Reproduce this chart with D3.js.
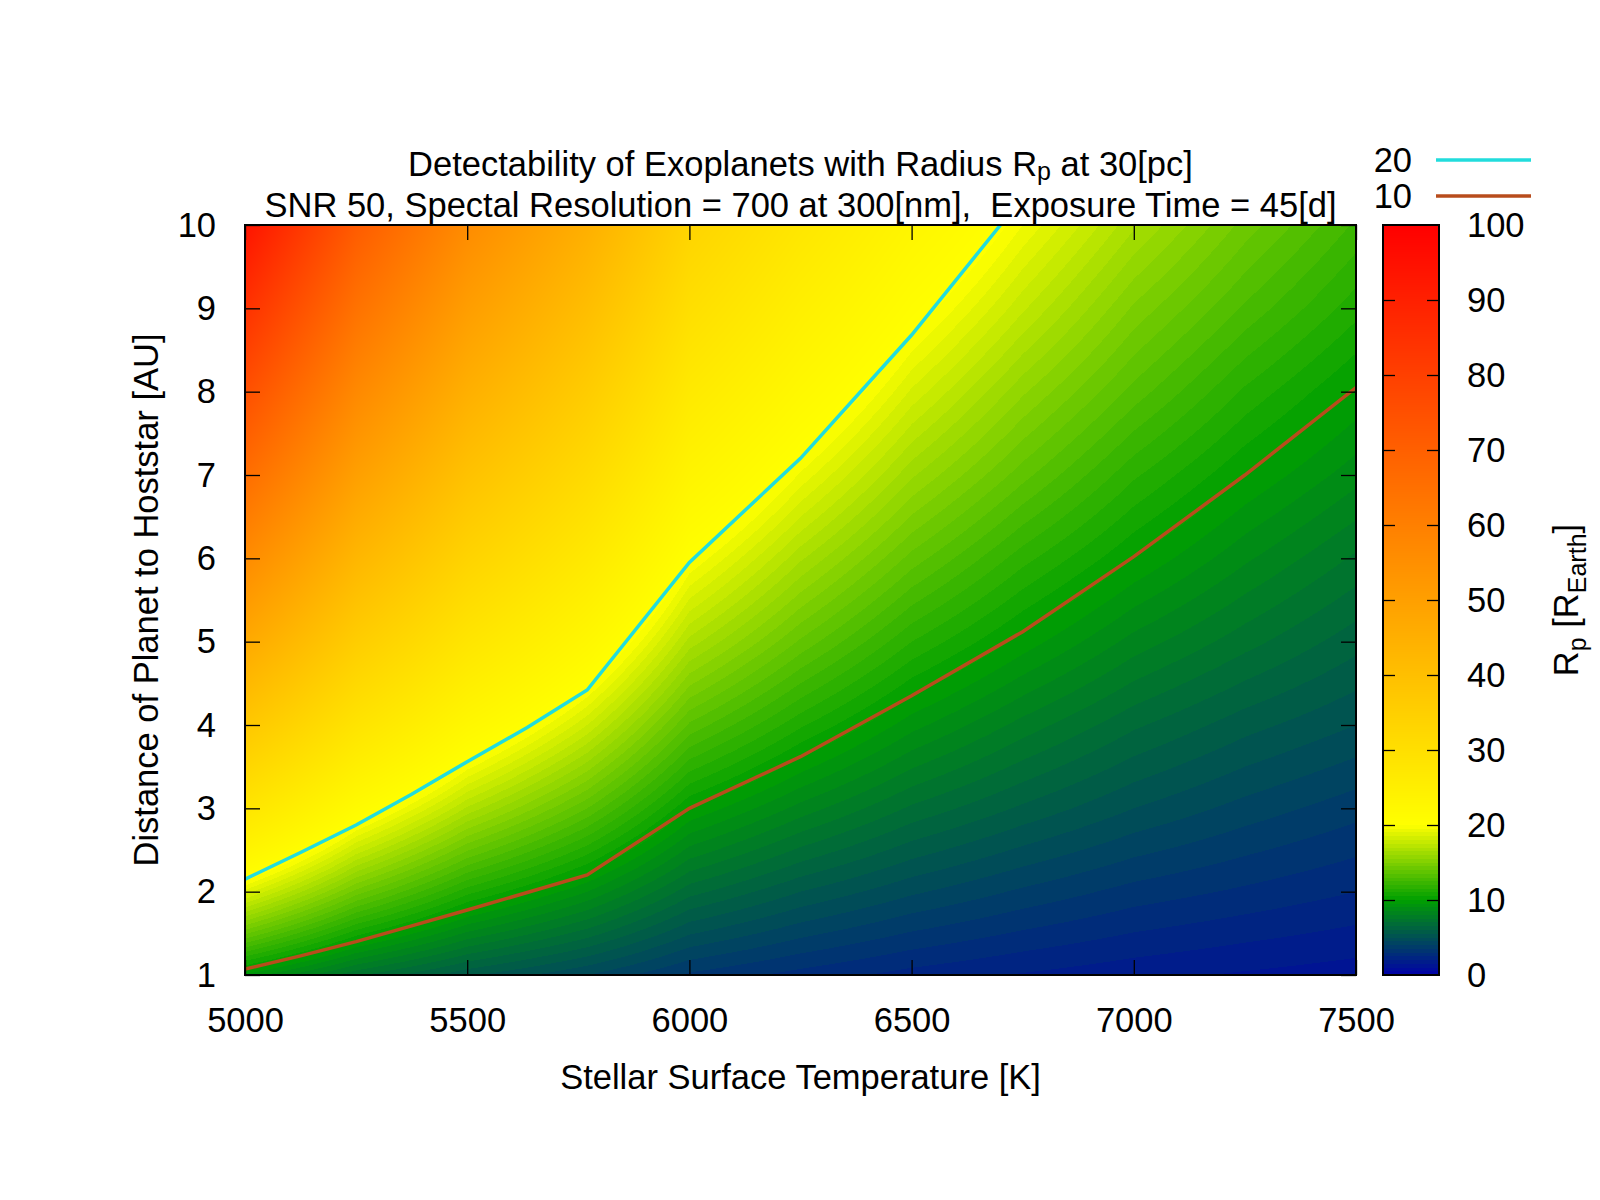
<!DOCTYPE html>
<html><head><meta charset="utf-8">
<script src="https://cdn.jsdelivr.net/npm/d3@7"></script>
<style>
body{margin:0;background:#fff}
text{font-family:"Liberation Sans",Arial,sans-serif;fill:#000}
</style>
</head><body>
<svg id="chart" width="1600" height="1200" xmlns="http://www.w3.org/2000/svg"></svg>
<script>
// ---------------- data ----------------
const temperatures = [5000, 5250, 5500, 5770, 6000, 6250, 6500, 6750, 7000, 7250, 7500];
const distances = [1, 2, 3, 4, 5, 6, 7, 8, 9, 10];
// Rp [R_Earth]; rows = distances, columns = temperatures
const rpGrid = [
  [ 9.4,  7.1,  5.6,  4.5,  3.4,  2.8,  2.3,  1.95, 1.66, 1.43, 1.24],
  [18.8, 14.3, 11.2,  9.0,  6.7,  5.5,  4.6,  3.9,  3.3,  2.9,  2.5],
  [28.2, 21.4, 16.9, 13.5, 10.0,  8.3,  6.9,  5.9,  5.0,  4.3,  3.7],
  [37.6, 28.6, 22.5, 18.0, 13.4, 11.1,  9.2,  7.8,  6.6,  5.7,  5.0],
  [47.0, 35.7, 28.1, 22.5, 16.8, 13.9, 11.5,  9.8,  8.3,  7.2,  6.2],
  [56.4, 42.8, 33.7, 27.0, 20.1, 16.6, 13.8, 11.7, 10.0,  8.6,  7.4],
  [65.8, 50.0, 39.3, 31.5, 23.5, 19.4, 16.1, 13.7, 11.6, 10.0,  8.7],
  [75.2, 57.1, 45.0, 36.0, 26.8, 22.2, 18.4, 15.6, 13.3, 11.4,  9.9],
  [84.6, 64.3, 50.6, 40.5, 30.2, 24.9, 20.7, 17.6, 14.9, 12.9, 11.2],
  [94.0, 71.4, 56.2, 45.0, 33.5, 27.7, 23.0, 19.5, 16.6, 14.3, 12.4]
];
// contour lines: [temperature, distance]
const contour20 = [[5000,2.15],[5125,2.47],[5250,2.8],[5375,3.17],[5500,3.56],[5635,3.97],[5770,4.42],[6000,5.95],[6250,7.2],[6500,8.68],[6700,10]];
const contour10 = [[5000,1.07],[5125,1.23],[5250,1.4],[5375,1.59],[5500,1.78],[5635,1.99],[5770,2.2],[6000,3.0],[6250,3.62],[6500,4.35],[6750,5.12],[7000,6.02],[7250,7.0],[7500,8.05]];
const contourLevels = ["20", "10"];
const xTicks = [5000, 5500, 6000, 6500, 7000, 7500];
const yTicks = [1, 2, 3, 4, 5, 6, 7, 8, 9, 10];
const cbTicks = [0, 10, 20, 30, 40, 50, 60, 70, 80, 90, 100];
const paletteStops = [0, 10, 20, 100];
const paletteColors = ["#0000a8", "#00a000", "#ffff00", "#ff0000"];

// ---------------- layout ----------------
const L = 245, R = 1356, T = 225, B = 975;
const cbL = 1383, cbR = 1439;
const svg = d3.select("#chart");

const x = d3.scaleLinear().domain([5000, 7500]).range([L, R]);
const y = d3.scaleLinear().domain([1, 10]).range([B, T]);
const cb = d3.scaleLinear().domain([0, 100]).range([B, T]);
const col = d3.scaleLinear().domain(paletteStops).range(paletteColors).interpolate(d3.interpolateRgb).clamp(true);
function colorOf(v) {
  if (v < 20) v = Math.floor(v * 2) / 2 + 0.25;
  return col(v);
}
function valueAt(t, d) {
  let i = d3.bisectRight(temperatures, t) - 1;
  i = Math.max(0, Math.min(temperatures.length - 2, i));
  let j = d3.bisectRight(distances, d) - 1;
  j = Math.max(0, Math.min(distances.length - 2, j));
  const fx = (t - temperatures[i]) / (temperatures[i + 1] - temperatures[i]);
  const fy = (d - distances[j]) / (distances[j + 1] - distances[j]);
  const v00 = rpGrid[j][i], v10 = rpGrid[j][i + 1], v01 = rpGrid[j + 1][i], v11 = rpGrid[j + 1][i + 1];
  return (v00 * (1 - fx) + v10 * fx) * (1 - fy) + (v01 * (1 - fx) + v11 * fx) * fy;
}

// heatmap via canvas image
const W = R - L, H = B - T;
const canvas = document.createElement("canvas");
canvas.width = W; canvas.height = H;
const ctx = canvas.getContext("2d");
const img = ctx.createImageData(W, H);
for (let py = 0; py < H; py++) {
  const d = y.invert(T + py + 0.5);
  for (let px = 0; px < W; px++) {
    const t = x.invert(L + px + 0.5);
    const c = d3.rgb(colorOf(valueAt(t, d)));
    const k = (py * W + px) * 4;
    img.data[k] = c.r; img.data[k + 1] = c.g; img.data[k + 2] = c.b; img.data[k + 3] = 255;
  }
}
ctx.putImageData(img, 0, 0);
svg.append("image").attr("x", L).attr("y", T).attr("width", W).attr("height", H)
  .attr("preserveAspectRatio", "none").attr("href", canvas.toDataURL());

// contour lines
const line = d3.line().x(p => x(p[0])).y(p => y(p[1]));
svg.append("defs").append("clipPath").attr("id", "clip").append("rect")
  .attr("x", L).attr("y", T).attr("width", W).attr("height", H);
svg.append("path").attr("d", line(contour10)).attr("fill", "none").attr("stroke", "#b84c1c").attr("stroke-width", 3.5).attr("clip-path", "url(#clip)");
svg.append("path").attr("d", line(contour20)).attr("fill", "none").attr("stroke", "#22dcdc").attr("stroke-width", 3.5).attr("clip-path", "url(#clip)");

// axes
const fs = 34.5;
const tick = 15;
const fmt = d3.format("d");
const gx = svg.append("g").attr("transform", `translate(0,${B})`)
  .call(d3.axisBottom(x).tickValues(xTicks).tickFormat(fmt).tickSizeInner(-tick).tickSizeOuter(0).tickPadding(33));
const gxt = svg.append("g").attr("transform", `translate(0,${T})`)
  .call(d3.axisTop(x).tickValues(xTicks).tickSizeInner(-tick).tickSizeOuter(0).tickFormat(""));
const gy = svg.append("g").attr("transform", `translate(${L},0)`)
  .call(d3.axisLeft(y).tickValues(yTicks).tickFormat(fmt).tickSizeInner(-tick).tickSizeOuter(0).tickPadding(29));
const gyr = svg.append("g").attr("transform", `translate(${R},0)`)
  .call(d3.axisRight(y).tickValues(yTicks).tickSizeInner(-tick).tickSizeOuter(0).tickFormat(""));
[gx, gxt, gy, gyr].forEach(g => {
  g.select(".domain").remove();
  g.selectAll(".tick line").attr("stroke", "#000").attr("stroke-width", 1.3);
  g.selectAll("text").attr("font-size", fs).attr("font-family", "Liberation Sans, Arial, sans-serif").attr("fill", "#000");
});
svg.append("rect").attr("x", L).attr("y", T).attr("width", W).attr("height", H)
  .attr("fill", "none").attr("stroke", "#000").attr("stroke-width", 2);

// colorbar
const cbG = svg.append("g");
for (let py = T; py < B; py++) {
  const v = cb.invert(py + 0.5);
  cbG.append("rect").attr("x", cbL).attr("y", py).attr("width", cbR - cbL).attr("height", 1.2).attr("fill", colorOf(v));
}
const gcb = svg.append("g").attr("transform", `translate(${cbR},0)`)
  .call(d3.axisRight(cb).tickValues(cbTicks).tickFormat(fmt).tickSizeInner(-12).tickSizeOuter(0).tickPadding(28));
const gcbl = svg.append("g").attr("transform", `translate(${cbL},0)`)
  .call(d3.axisLeft(cb).tickValues(cbTicks).tickSizeInner(-12).tickSizeOuter(0).tickFormat(""));
[gcb, gcbl].forEach(g => {
  g.select(".domain").remove();
  g.selectAll(".tick line").attr("stroke", "#000").attr("stroke-width", 1.3);
  g.selectAll("text").attr("font-size", fs).attr("font-family", "Liberation Sans, Arial, sans-serif").attr("fill", "#000");
});
gcb.selectAll(".tick").filter(d => d === 0 || d === 100).select("line").remove();
gcbl.selectAll(".tick").filter(d => d === 0 || d === 100).select("line").remove();
svg.append("rect").attr("x", cbL).attr("y", T).attr("width", cbR - cbL).attr("height", H)
  .attr("fill", "none").attr("stroke", "#000").attr("stroke-width", 2);

// labels
const lfs = 34.5;
const sfs = 25;
svg.append("text").attr("x", (L + R) / 2).attr("y", 1089).attr("text-anchor", "middle")
  .attr("font-size", lfs).text("Stellar Surface Temperature [K]");
svg.append("text").attr("transform", `translate(158,${(T + B) / 2}) rotate(-90)`).attr("text-anchor", "middle")
  .attr("font-size", lfs).text("Distance of Planet to Hoststar [AU]");
const cbLabel = svg.append("text").attr("transform", `translate(1578,${(T + B) / 2}) rotate(-90)`).attr("text-anchor", "middle")
  .attr("font-size", lfs);
cbLabel.append("tspan").text("R");
cbLabel.append("tspan").attr("dy", 8).attr("font-size", sfs).text("p");
cbLabel.append("tspan").attr("dy", -8).text(" [R");
cbLabel.append("tspan").attr("dy", 8).attr("font-size", sfs).text("Earth");
cbLabel.append("tspan").attr("dy", -8).text("]");

// title
const t1 = svg.append("text").attr("x", (L + R) / 2).attr("y", 176).attr("text-anchor", "middle").attr("font-size", lfs);
t1.append("tspan").text("Detectability of Exoplanets with Radius R");
t1.append("tspan").attr("dy", 4).attr("font-size", sfs).text("p");
t1.append("tspan").attr("dy", -4).text(" at 30[pc]");
svg.append("text").attr("x", (L + R) / 2).attr("y", 217).attr("text-anchor", "middle").attr("font-size", lfs)
  .style("white-space", "pre").text("SNR 50, Spectal Resolution = 700 at 300[nm],  Exposure Time = 45[d]");

// legend
const legendColors = ["#22dcdc", "#b84c1c"];
contourLevels.forEach((lab, i) => {
  const ly = 160 + i * 36;
  svg.append("text").attr("x", 1412).attr("y", ly + 12).attr("text-anchor", "end").attr("font-size", fs).text(lab);
  svg.append("line").attr("x1", 1436).attr("x2", 1531).attr("y1", ly).attr("y2", ly)
    .attr("stroke", legendColors[i]).attr("stroke-width", 3.5);
});
</script>
</body></html>
